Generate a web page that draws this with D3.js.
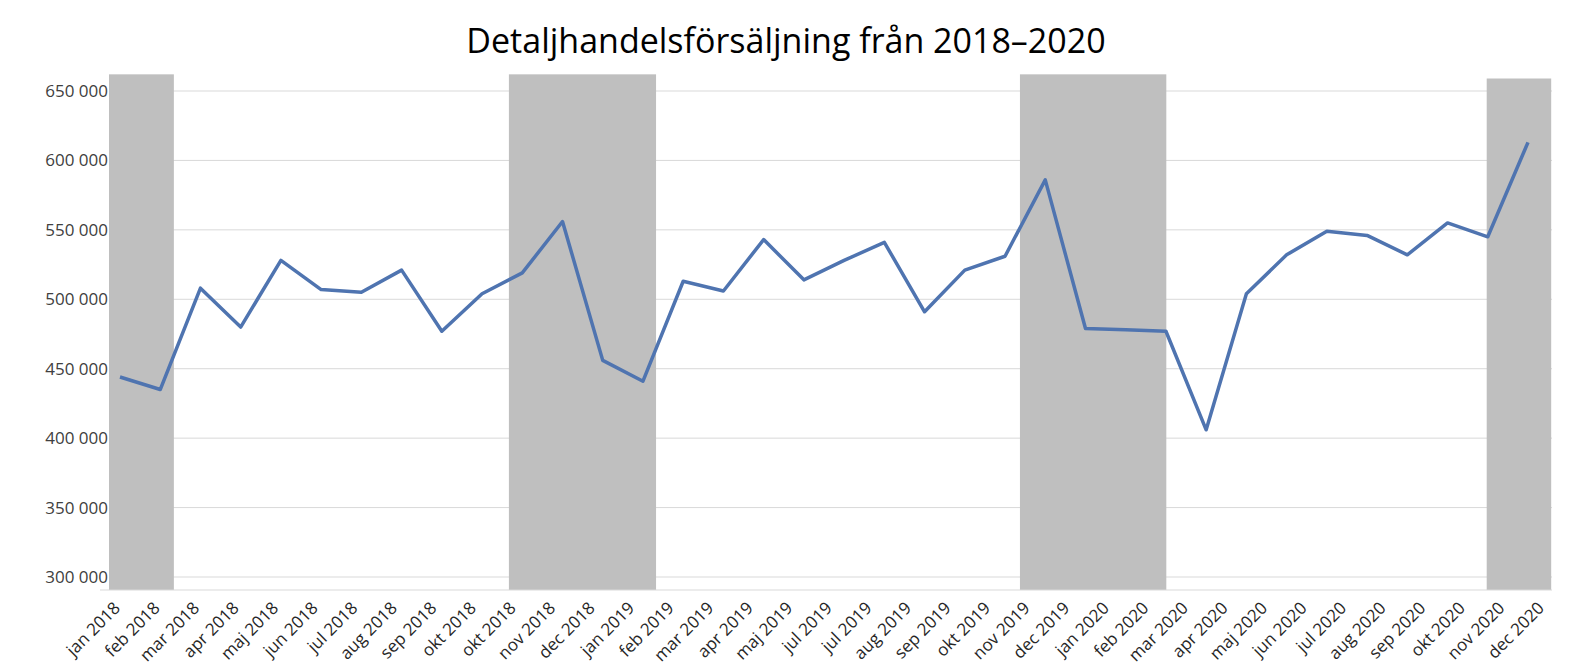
<!DOCTYPE html>
<html><head><meta charset="utf-8">
<script src="https://cdn.jsdelivr.net/npm/d3@7"></script>
<style>body{margin:0;background:#fff;font-family:"Open Sans","Noto Sans",sans-serif}</style>
</head><body><div id="container"></div>
<script>
// tick labels as printed in the original (incl. its duplicate/missing months)
const labels = ["jan 2018","feb 2018","mar 2018","apr 2018","maj 2018","jun 2018","jul 2018","aug 2018","sep 2018","okt 2018","okt 2018","nov 2018","dec 2018",
  "jan 2019","feb 2019","mar 2019","apr 2019","maj 2019","jul 2019","jul 2019","aug 2019","sep 2019","okt 2019","nov 2019","dec 2019",
  "jan 2020","feb 2020","mar 2020","apr 2020","maj 2020","jun 2020","jul 2020","aug 2020","sep 2020","okt 2020","nov 2020","dec 2020"];
const sales = [444000,435000,508000,480000,528000,507000,505000,521000,477000,504000,519000,556000,
  456000,441000,513000,506000,543000,514000,528000,541000,491000,521000,531000,586000,
  479000,478000,477000,406000,504000,532000,549000,546000,532000,555000,545000,613000];
// shaded periods in tick-label units: [start, end]
const shaded = [[-0.43,1.21],[9.68,13.4],[22.6,26.3],[34.4,36.03]];
const shadeTop = [662000,662000,662000,659000];
const yTicks = [300000,350000,400000,450000,500000,550000,600000,650000];

const width = 1578, height = 672;
const svg = d3.select("#container").append("svg").attr("width", width).attr("height", height);

const x = d3.scaleLinear().domain([0, sales.length - 1]).range([120, 1528]);
const lx = d3.scaleLinear().domain([0, labels.length - 1]).range([126, 1550]);
const y = d3.scaleLinear().domain([300000, 650000]).range([577, 91]);
const bottom = 590;

// grid
svg.append("g").selectAll("line").data(yTicks).join("line")
  .attr("x1", 110).attr("x2", 1552)
  .attr("y1", d => y(d)).attr("y2", d => y(d))
  .attr("stroke", "#d9d9d9").attr("stroke-width", 1);

// shaded bands
svg.append("g").selectAll("rect").data(shaded).join("rect")
  .attr("x", d => lx(d[0]))
  .attr("width", d => lx(d[1]) - lx(d[0]))
  .attr("y", (d, i) => y(shadeTop[i]))
  .attr("height", (d, i) => bottom - y(shadeTop[i]))
  .attr("fill", "#bfbfbf");

// y labels
const fmt = v => d3.format(",")(v).replace(/,/g, " ");
svg.append("g").selectAll("text").data(yTicks).join("text")
  .attr("x", 108).attr("y", d => y(d)).attr("dy", "0.35em")
  .attr("text-anchor", "end").attr("font-size", 17).attr("fill", "#404040")
  .text(fmt);

// x axis line
svg.append("line").attr("x1", 100).attr("x2", 1552).attr("y1", bottom).attr("y2", bottom)
  .attr("stroke", "#d9d9d9");

// x labels
svg.append("g").selectAll("text").data(labels).join("text")
  .attr("transform", (d, i) => `translate(${lx(i) - 9},${bottom + 15}) rotate(-45)`)
  .attr("text-anchor", "end").attr("dy", "0.35em")
  .attr("font-size", 17).attr("fill", "#262626")
  .text(d => d);

// line
svg.append("path").datum(sales)
  .attr("fill", "none").attr("stroke", "#4f74b0").attr("stroke-width", 3.5)
  .attr("stroke-linejoin", "round")
  .attr("d", d3.line().x((d, i) => x(i)).y(d => y(d)));

// title
svg.append("text").attr("x", 786).attr("y", 53).attr("text-anchor", "middle")
  .attr("font-size", 34).attr("fill", "#000")
  .text("Detaljhandelsförsäljning från 2018–2020");
</script></body></html>
